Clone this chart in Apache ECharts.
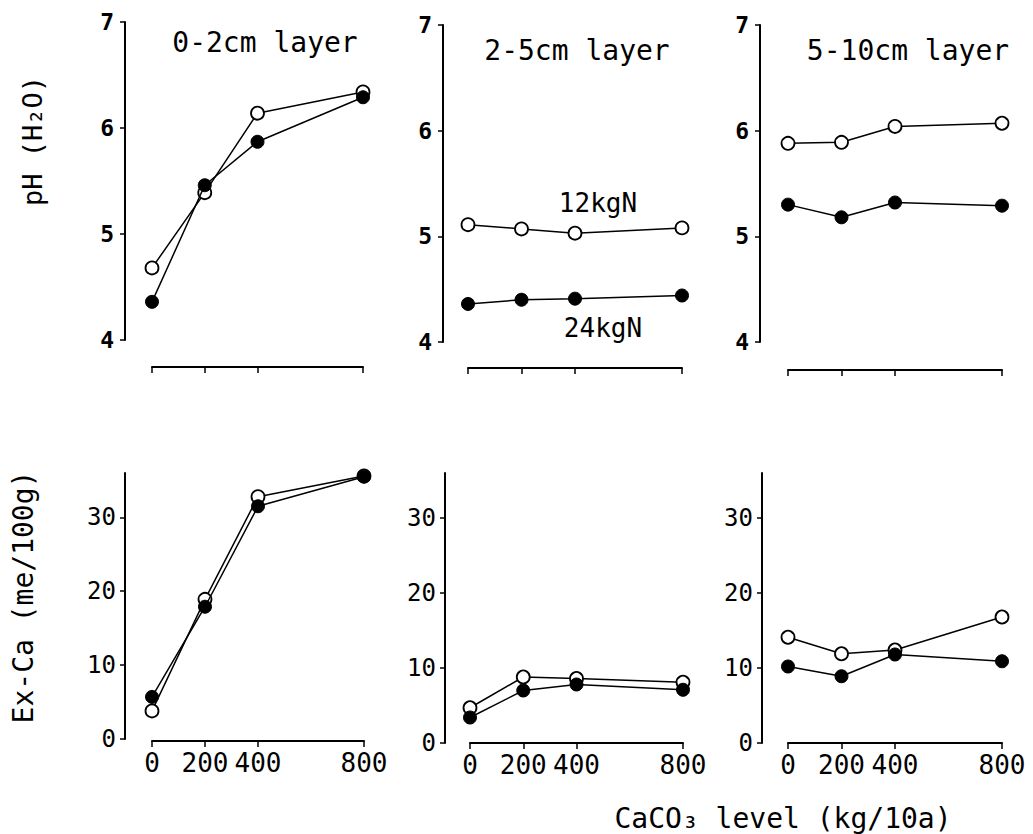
<!DOCTYPE html>
<html>
<head>
<meta charset="utf-8">
<script src="https://cdn.jsdelivr.net/npm/echarts@6/dist/echarts.min.js"></script>
<style>
html,body{margin:0;padding:0;background:#fff;}
#chart{width:1033px;height:834px;}
</style>
</head>
<body>
<div id="chart"></div>
<script>
// ---- data ----
const caco3Levels = [0, 200, 400, 800];
const xTickLabels = ['0', '200', '400', '800'];
const phTicks = [4, 5, 6, 7];
const caTicks = [0, 10, 20, 30];
const layerTitles = ['0-2cm layer', '2-5cm layer', '5-10cm layer'];
const seriesNames = ['12kgN', '24kgN'];

// pH (H2O), 12 kgN (open) and 24 kgN (filled)
const ph12_0_2  = [4.68, 5.39, 6.14, 6.34];
const ph24_0_2  = [4.36, 5.46, 5.87, 6.29];
const ph12_2_5  = [5.11, 5.07, 5.03, 5.08];
const ph24_2_5  = [4.36, 4.40, 4.41, 4.44];
const ph12_5_10 = [5.88, 5.89, 6.04, 6.07];
const ph24_5_10 = [5.30, 5.18, 5.32, 5.29];

// Ex-Ca (me/100g)
const ca12_0_2  = [3.8, 18.9, 32.8, 35.6];
const ca24_0_2  = [5.7, 17.9, 31.5, 35.5];
const ca12_2_5  = [4.7, 8.8, 8.6, 8.1];
const ca24_2_5  = [3.4, 7.0, 7.8, 7.1];
const ca12_5_10 = [14.1, 11.9, 12.4, 16.8];
const ca24_5_10 = [10.2, 8.9, 11.8, 10.9];

// ---- layout ----
const MONO = '"DejaVu Sans Mono","Liberation Mono",monospace';
const grids = [
  {left:152, top:22,  width:211, height:318},
  {left:468, top:25,  width:214, height:317},
  {left:788, top:25,  width:214, height:317},
  {left:152, top:473, width:212, height:266},
  {left:470, top:473, width:213, height:270},
  {left:788, top:473, width:214, height:270}
];
const yOffsets = [27, 25, 28, 27, 25, 26];
const xOffsets = [27, 26, 28, 2, 0, 0];

const panels = [
  [ph12_0_2, ph24_0_2], [ph12_2_5, ph24_2_5], [ph12_5_10, ph24_5_10],
  [ca12_0_2, ca24_0_2], [ca12_2_5, ca24_2_5], [ca12_5_10, ca24_5_10]
];

const xAxes = [], yAxes = [], series = [];
grids.forEach((g, i) => {
  const top = i < 3;
  xAxes.push({
    type: 'value', gridIndex: i, min: 0, max: 800, position: 'bottom',
    offset: xOffsets[i],
    axisLine: {show: true, onZero: false, lineStyle: {color: '#000', width: 2}},
    axisTick: {show: true, length: 6, customValues: caco3Levels, lineStyle: {color: '#000', width: 1.5}},
    axisLabel: top ? {show: false} : {
      show: true, customValues: caco3Levels, margin: 9,
      formatter: v => xTickLabels[caco3Levels.indexOf(v)],
      fontFamily: MONO, fontSize: 26, color: '#000'
    },
    splitLine: {show: false}
  });
  const ticks = top ? phTicks : caTicks;
  yAxes.push({
    type: 'value', gridIndex: i, position: 'left', offset: yOffsets[i],
    min: top ? 4 : 0, max: top ? 7 : 36,
    axisLine: {show: true, onZero: false, lineStyle: {color: '#000', width: 2}},
    axisTick: {show: true, length: 5, customValues: ticks, lineStyle: {color: '#000', width: 1.5}},
    axisLabel: {
      show: true, customValues: ticks, margin: top ? 11 : 9,
      fontFamily: MONO, fontSize: top ? 23 : 24, fontWeight: top ? 'bold' : 'normal', color: '#000'
    },
    splitLine: {show: false}
  });
  const pair = panels[i];
  pair.forEach((vals, k) => {
    series.push({
      name: seriesNames[k], type: 'line', xAxisIndex: i, yAxisIndex: i,
      data: caco3Levels.map((x, j) => [x, vals[j]]),
      symbol: 'circle', symbolSize: 13, showSymbol: true,
      lineStyle: {color: '#000', width: 1.5},
      itemStyle: k === 0 ? {color: '#fff', borderColor: '#000', borderWidth: 1.8}
                         : {color: '#000', borderColor: '#000', borderWidth: 1},
      z: 2 + k, animation: false, silent: true
    });
  });
});

const txt = (x, y, text, size, rot) => ({
  type: 'text', x: x, y: y, rotation: rot || 0,
  style: {text: text, fontFamily: MONO, fontSize: size, fill: '#000', align: 'center', verticalAlign: 'middle'}
});

const graphic = [
  txt(265, 42, layerTitles[0], 28),
  txt(577, 50, layerTitles[1], 28),
  txt(908, 50, layerTitles[2], 28),
  txt(598, 203, seriesNames[0], 26),
  txt(603, 328, seriesNames[1], 26),
  txt(32, 141, 'pH (H\u2082O)', 27, Math.PI / 2),
  txt(23, 597, 'Ex-Ca (me/100g)', 28, Math.PI / 2),
  txt(783, 818, 'CaCO\u2083 level (kg/10a)', 28)
];

const chart = echarts.init(document.getElementById('chart'), null, {renderer: 'svg'});
chart.setOption({
  animation: false,
  backgroundColor: '#fff',
  grid: grids,
  xAxis: xAxes,
  yAxis: yAxes,
  series: series,
  graphic: graphic
});
</script>
</body>
</html>
